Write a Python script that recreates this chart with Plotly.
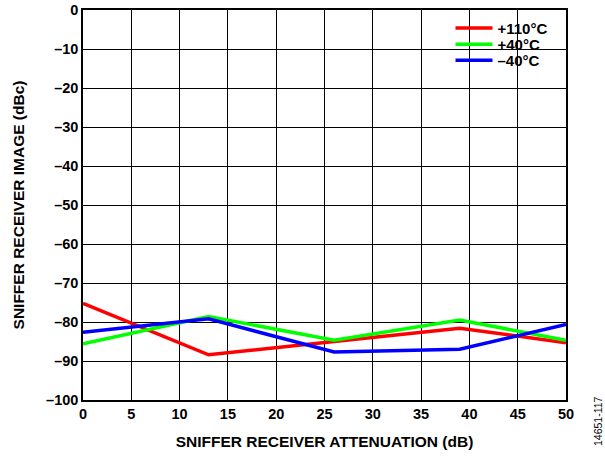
import plotly.graph_objects as go

atten_db = [0, 13, 26, 39, 50]
image_110c = [-75.2, -88.4, -85.0, -81.6, -85.3]
image_40c = [-85.6, -78.6, -84.7, -79.5, -84.7]
image_m40c = [-82.6, -79.2, -87.7, -87.0, -80.6]

x_ticks = list(range(0, 51, 5))
y_ticks = list(range(0, -101, -10))
y_tick_text = ["0" if v == 0 else "–" + str(-v) for v in y_ticks]

series = [
    ("+110°C", image_110c, "#ff0000"),
    ("+40°C", image_40c, "#00ff00"),
    ("–40°C", image_m40c, "#0000ff"),
]

font_family = "Liberation Sans, Arial, sans-serif"
tick_font = dict(family=font_family, size=14.5, color="black", weight="bold")
title_font = dict(family=font_family, size=15.5, color="black", weight="bold")
legend_font = dict(family=font_family, size=15, color="black", weight="bold")

# plot area in pixels: x 83..566, y 10..400
def px_to_paper_y(p):
    return 1 - (p - 10) / 390

legend_names = ["legend", "legend2", "legend3"]
legend_rows = [28.3, 44.5, 60.5]

fig = go.Figure()
for (name, vals, color), lg in zip(series, legend_names):
    fig.add_trace(go.Scatter(
        x=atten_db, y=vals, mode="lines", name=name, legend=lg,
        line=dict(color=color, width=3.5),
    ))

legend_common = dict(
    x=(450.5 - 83) / 483, xanchor="left", yanchor="middle",
    bgcolor="rgba(0,0,0,0)", borderwidth=0, itemwidth=37,
    font=legend_font,
)

layout_legends = {}
for lg, row in zip(legend_names, legend_rows):
    layout_legends[lg] = dict(legend_common, y=px_to_paper_y(row))

fig.update_layout(
    width=605, height=456,
    margin=dict(l=83, r=39, t=10, b=56, autoexpand=False),
    paper_bgcolor="white", plot_bgcolor="white",
    font=dict(family=font_family, size=14, color="black", weight="bold"),
    showlegend=True,
    xaxis=dict(
        range=[0, 50], tickvals=x_ticks, ticktext=[str(v) for v in x_ticks],
        showgrid=True, gridcolor="black", gridwidth=1,
        showline=True, linecolor="black", linewidth=1.5, mirror="ticks",
        ticks="inside", ticklen=4, tickcolor="black",
        zeroline=False, automargin=False,
        tickfont=tick_font,
        title=dict(text="SNIFFER RECEIVER ATTENUATION (dB)", standoff=15,
                   font=title_font),
    ),
    yaxis=dict(
        range=[-100, 0], tickvals=y_ticks, ticktext=y_tick_text,
        showgrid=True, gridcolor="black", gridwidth=1,
        showline=True, linecolor="black", linewidth=1.5, mirror="ticks",
        ticks="inside", ticklen=4, tickcolor="black",
        zeroline=False, automargin=False,
        tickfont=tick_font,
        title=dict(text="SNIFFER RECEIVER IMAGE (dBc)", standoff=18,
                   font=title_font),
    ),
    **layout_legends,
)

# white panel behind the legend (hides the grid there)
fig.add_shape(
    type="rect", xref="paper", yref="paper", layer="between",
    x0=(447 - 83) / 483, x1=1.0, y0=px_to_paper_y(76), y1=1.0,
    fillcolor="white", line=dict(width=0),
)

fig.add_annotation(
    text="14651-117", xref="paper", yref="paper",
    x=(598 - 83) / 483, y=(400 - 421) / 390, xanchor="center", yanchor="middle",
    textangle=-90, showarrow=False,
    font=dict(family=font_family, size=10.5, color="black", weight="normal"),
)

fig.write_html("out.html", post_script="document.body.style.margin='0';",
               config={"displayModeBar": False})
